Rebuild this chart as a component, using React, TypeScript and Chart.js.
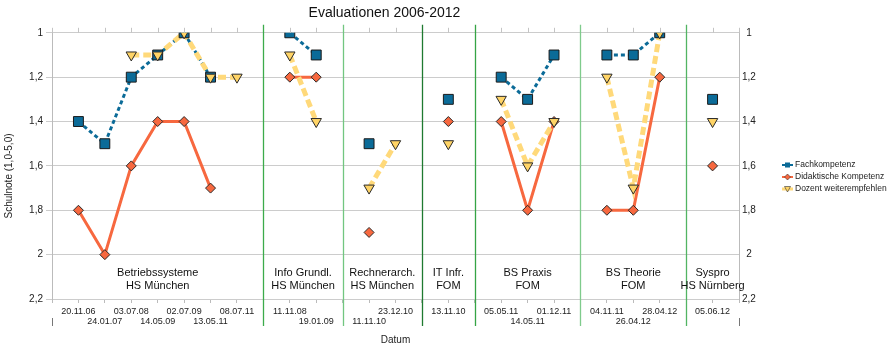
import React, { useEffect, useRef } from 'react';
import { Chart, registerables } from 'chart.js';

Chart.register(...registerables);

const FONT = "'Liberation Sans', Arial, Helvetica, sans-serif";

// x slots (0 and 26 are the axis edges, empty slots are group separators)
const dateLabels = [
  '', '20.11.06', '24.01.07', '03.07.08', '14.05.09', '02.07.09', '13.05.11', '08.07.11',
  '', '11.11.08', '19.01.09',
  '', '11.11.10', '23.12.10',
  '', '13.11.10',
  '', '05.05.11', '14.05.11', '01.12.11',
  '', '04.11.11', '26.04.12', '28.04.12',
  '', '05.06.12', '',
];
// 0 = first label row, 1 = second label row
const labelRows = [0, 0, 1, 0, 1, 0, 1, 0, 0, 0, 1, 0, 1, 0, 0, 0, 0, 0, 1, 0, 0, 0, 1, 0, 0, 0, 0];

const groupNames = [
  ['Betriebssysteme', 'HS München'],
  ['Info Grundl.', 'HS München'],
  ['Rechnerarch.', 'HS München'],
  ['IT Infr.', 'FOM'],
  ['BS Praxis', 'FOM'],
  ['BS Theorie', 'FOM'],
  ['Syspro', 'HS Nürnberg'],
];
const groupBounds = [0, 8, 11, 14, 16, 20, 24, 26];

const fachkompetenz = [
  null, 1.4, 1.5, 1.2, 1.1, 1.0, 1.2, null,
  null, 1.0, 1.1,
  null, 1.5, null,
  null, 1.3,
  null, 1.2, 1.3, 1.1,
  null, 1.1, 1.1, 1.0,
  null, 1.3, null,
];
const didaktischeKompetenz = [
  null, 1.8, 2.0, 1.6, 1.4, 1.4, 1.7, null,
  null, 1.2, 1.2,
  null, 1.9, null,
  null, 1.4,
  null, 1.4, 1.8, 1.4,
  null, 1.8, 1.8, 1.2,
  null, 1.6, null,
];
const dozentWeiterempfehlen = [
  null, null, null, 1.1, 1.1, 1.0, 1.2, 1.2,
  null, 1.1, 1.4,
  null, 1.7, 1.5,
  null, 1.5,
  null, 1.3, 1.6, 1.4,
  null, 1.2, 1.7, 1.0,
  null, 1.4, null,
];

const yTicks = [1, 1.2, 1.4, 1.6, 1.8, 2, 2.2];
const seriesNames = ['Fachkompetenz', 'Didaktische Kompetenz', 'Dozent weiterempfehlen'];

const C_FACH = '#0b6b98';
const C_DID = '#f7683f';
const C_DOZ = '#ffd97a';
const C_DOZ_PT = '#ffd466';
const separatorColors = ['#3cab4b', '#72c680', '#1f7a30', '#35a445', '#7fcb8c', '#52b463'];

const fmt = (v: number) => String(Math.round(v * 10) / 10).replace('.', ',');

const overlayPlugin = {
  id: 'overlay',
  afterDraw(chart: any) {
    const { ctx, chartArea, scales } = chart;
    const xs = scales.x;
    const top = chartArea.top;
    const bottom = chartArea.bottom;
    ctx.save();

    // top tick marks
    ctx.strokeStyle = '#c4c4c4';
    ctx.lineWidth = 1;
    for (let i = 0; i < dateLabels.length; i++) {
      const px = Math.round(xs.getPixelForValue(i)) + 0.5;
      ctx.beginPath();
      ctx.moveTo(px, top - 5);
      ctx.lineTo(px, top);
      ctx.stroke();
    }

    // edge ticks below labels
    ctx.strokeStyle = '#777';
    [groupBounds[0], groupBounds[groupBounds.length - 1]].forEach((b) => {
      const px = Math.round(xs.getPixelForValue(b)) + 0.5;
      ctx.beginPath();
      ctx.moveTo(px, bottom + 19);
      ctx.lineTo(px, bottom + 27);
      ctx.stroke();
    });

    // group separators
    for (let i = 1; i < groupBounds.length - 1; i++) {
      const px = Math.round(xs.getPixelForValue(groupBounds[i])) + 0.5;
      ctx.strokeStyle = separatorColors[i - 1];
      ctx.lineWidth = 1.3;
      ctx.beginPath();
      ctx.moveTo(px, top - 8);
      ctx.lineTo(px, bottom + 27);
      ctx.stroke();
    }

    // group labels
    ctx.fillStyle = '#111';
    ctx.font = `11px ${FONT}`;
    ctx.textAlign = 'center';
    ctx.textBaseline = 'middle';
    for (let g = 0; g < groupNames.length; g++) {
      const a = xs.getPixelForValue(groupBounds[g]);
      const b = xs.getPixelForValue(groupBounds[g + 1]);
      const cx = (a + b) / 2;
      ctx.fillText(groupNames[g][0], cx, bottom - 26);
      ctx.fillText(groupNames[g][1], cx, bottom - 13);
    }

    // y axis title
    ctx.save();
    ctx.translate(9, 176);
    ctx.rotate(-Math.PI / 2);
    ctx.font = `10px ${FONT}`;
    ctx.fillStyle = '#222';
    ctx.textAlign = 'center';
    ctx.textBaseline = 'middle';
    ctx.fillText('Schulnote (1,0-5,0)', 0, 0);
    ctx.restore();

    // legend
    const lx0 = 782;
    const lx1 = 793;
    const lys = [165, 177, 189];
    ctx.font = `8.5px ${FONT}`;
    ctx.textAlign = 'left';
    ctx.textBaseline = 'middle';
    const cx = (lx0 + lx1) / 2;
    // Fachkompetenz
    ctx.strokeStyle = C_FACH;
    ctx.lineWidth = 2;
    ctx.beginPath(); ctx.moveTo(lx0, lys[0]); ctx.lineTo(lx1, lys[0]); ctx.stroke();
    ctx.fillStyle = C_FACH;
    ctx.fillRect(cx - 2.5, lys[0] - 2.5, 5, 5);
    // Didaktische Kompetenz
    ctx.strokeStyle = C_DID;
    ctx.beginPath(); ctx.moveTo(lx0, lys[1]); ctx.lineTo(lx1, lys[1]); ctx.stroke();
    ctx.fillStyle = C_DID;
    ctx.beginPath();
    ctx.moveTo(cx, lys[1] - 3); ctx.lineTo(cx + 3, lys[1]); ctx.lineTo(cx, lys[1] + 3); ctx.lineTo(cx - 3, lys[1]);
    ctx.closePath(); ctx.fill();
    ctx.strokeStyle = '#333'; ctx.lineWidth = 0.6; ctx.stroke();
    // Dozent weiterempfehlen
    ctx.strokeStyle = C_DOZ;
    ctx.lineWidth = 3;
    ctx.beginPath(); ctx.moveTo(lx0, lys[2]); ctx.lineTo(lx1, lys[2]); ctx.stroke();
    ctx.fillStyle = C_DOZ_PT;
    ctx.beginPath();
    ctx.moveTo(cx - 3, lys[2] - 2.5); ctx.lineTo(cx + 3, lys[2] - 2.5); ctx.lineTo(cx, lys[2] + 3);
    ctx.closePath(); ctx.fill();
    ctx.strokeStyle = '#333'; ctx.lineWidth = 0.6; ctx.stroke();

    ctx.fillStyle = '#222';
    seriesNames.forEach((n, i) => ctx.fillText(n, lx1 + 2, lys[i]));

    ctx.restore();
  },
};

export default function App() {
  const ref = useRef<HTMLCanvasElement | null>(null);

  useEffect(() => {
    if (!ref.current) return;
    Chart.defaults.font.family = FONT;
    const chart = new Chart(ref.current, {
      type: 'line',
      data: {
        labels: dateLabels,
        datasets: [
          // lines (behind)
          {
            label: seriesNames[0], data: fachkompetenz, borderColor: C_FACH, borderWidth: 3,
            borderDash: [4, 3], pointRadius: 0, spanGaps: false, order: 5, tension: 0,
          },
          {
            label: seriesNames[1], data: didaktischeKompetenz, borderColor: C_DID, borderWidth: 3,
            pointRadius: 0, spanGaps: false, order: 4, tension: 0,
          },
          {
            label: seriesNames[2], data: dozentWeiterempfehlen, borderColor: C_DOZ, borderWidth: 5,
            borderDash: [8, 4], pointRadius: 0, spanGaps: false, order: 3, tension: 0,
          },
          // markers (front)
          {
            label: seriesNames[0] + ' ', data: fachkompetenz, showLine: false, pointStyle: 'rect',
            pointRadius: 7, backgroundColor: C_FACH, pointBorderColor: '#1a1a1a', pointBorderWidth: 1, order: 2,
          },
          {
            label: seriesNames[1] + ' ', data: didaktischeKompetenz, showLine: false, pointStyle: 'rectRot',
            pointRadius: 5, backgroundColor: C_DID, pointBorderColor: '#2a2a2a', pointBorderWidth: 1, order: 1,
          },
          {
            label: seriesNames[2] + ' ', data: dozentWeiterempfehlen, showLine: false, pointStyle: 'triangle',
            pointRotation: 180, pointRadius: 6, backgroundColor: C_DOZ_PT, pointBorderColor: '#2a2a2a',
            pointBorderWidth: 1, order: 0,
          },
        ] as any,
      },
      options: {
        responsive: false,
        animation: false,
        events: [],
        layout: { padding: { left: 0, right: 127, top: 0, bottom: 0 } },
        plugins: {
          legend: { display: false },
          tooltip: { enabled: false },
          title: {
            display: true,
            text: 'Evaluationen 2006-2012',
            color: '#111',
            font: { size: 14, weight: 'normal', family: FONT },
            padding: { top: 5, bottom: 11 },
          },
        },
        scales: {
          x: {
            type: 'category',
            offset: false,
            grid: { display: true, drawOnChartArea: false, drawTicks: true, tickLength: 4, color: '#bbbbbb' },
            border: { display: false },
            ticks: {
              autoSkip: false,
              maxRotation: 0,
              minRotation: 0,
              padding: 4,
              color: '#222',
              font: { size: 9, family: FONT, lineHeight: 1.1 },
              callback: (_v: any, i: number) => (labelRows[i] ? ['', dateLabels[i]] : dateLabels[i]),
            },
            title: {
              display: true, text: 'Datum', color: '#222',
              font: { size: 10, family: FONT }, padding: { top: 0, bottom: 4 },
            },
            afterFit: (s: any) => { s.height = 51; },
          },
          y: {
            type: 'linear', position: 'left', reverse: true, min: 1, max: 2.2,
            afterBuildTicks: (s: any) => { s.ticks = yTicks.map((v) => ({ value: v })); },
            grid: { color: '#cccccc', tickLength: 6, drawTicks: true },
            border: { display: true, color: '#bbbbbb' },
            ticks: { padding: 3, color: '#222', font: { size: 10, family: FONT }, callback: (v: any) => fmt(Number(v)) },
            afterFit: (s: any) => { s.width = 52; },
          },
          y2: {
            type: 'linear', position: 'right', reverse: true, min: 1, max: 2.2,
            afterBuildTicks: (s: any) => { s.ticks = yTicks.map((v) => ({ value: v })); },
            grid: { drawOnChartArea: false, drawTicks: false },
            border: { display: true, color: '#bbbbbb' },
            ticks: {
              padding: 3, crossAlign: 'center', color: '#222', font: { size: 10, family: FONT },
              callback: (v: any) => fmt(Number(v)),
            },
            afterFit: (s: any) => { s.width = 30; },
          },
        },
      } as any,
      plugins: [overlayPlugin],
    });
    return () => chart.destroy();
  }, []);

  return (
    <div style={{ position: 'absolute', left: 0, top: 0, width: 896, height: 350, background: '#fff' }}>
      <canvas ref={ref} width={896} height={350} style={{ width: 896, height: 350, display: 'block' }} />
    </div>
  );
}
